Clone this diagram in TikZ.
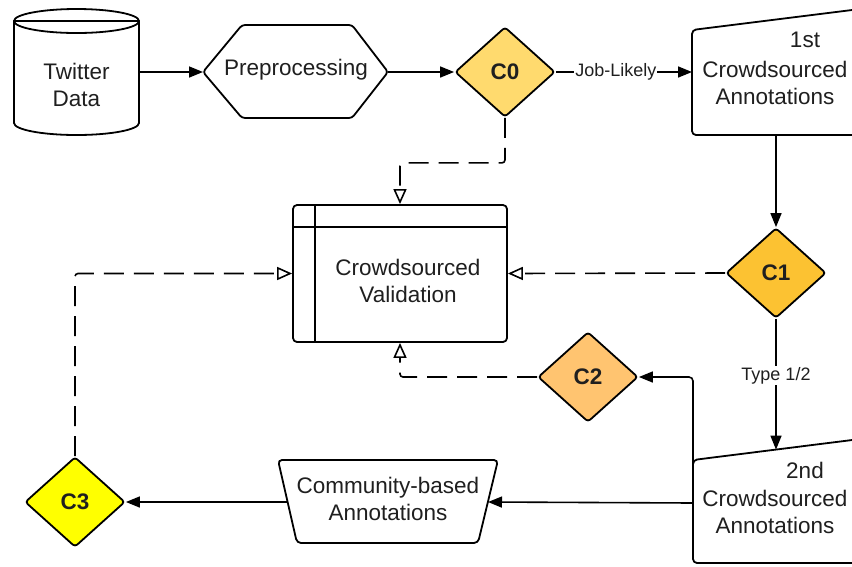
\documentclass[tikz,border=0pt]{standalone}
\usepackage{fontspec}
\setmainfont{Liberation Sans}
\usetikzlibrary{shapes.geometric,arrows.meta}
\definecolor{czero}{HTML}{FFDA6E}
\definecolor{cone}{HTML}{FCC232}
\definecolor{ctwo}{HTML}{FFC470}
\definecolor{cthree}{HTML}{FFFF00}
\begin{document}
\begin{tikzpicture}[x=1pt,y=-1pt,
  shapeline/.style={draw=black, line width=1.8pt, line join=round},
  txt/.style={font=\fontsize{22.5}{27}\selectfont, text=black!88, align=center, inner sep=0pt},
  dia/.style={diamond, draw=black, line width=1.8pt, rounded corners=3pt, minimum width=100pt, minimum height=90pt, inner sep=0pt, font=\bfseries\fontsize{22.5}{27}\selectfont, text=black!88},
  lbl/.style={font=\fontsize{18}{20}\selectfont, text=black!88, fill=white, inner sep=1pt},
  flow/.style={draw=black, line width=1.6pt, -{Triangle[length=14pt,width=11pt]}},
  dashflow/.style={draw=black, line width=1.6pt, dash pattern=on 20pt off 10pt, -{Triangle[open,length=15pt,width=13pt]}}
]
\useasboundingbox (0,0) rectangle (852,566);
\clip (0,0) rectangle (852,566);
\fill[white] (0,0) rectangle (852,566);

% Twitter Data cylinder
\path[shapeline, fill=white] (14,21) -- (14,123) arc[start angle=180,end angle=0,x radius=62.5,y radius=12] -- (139,21) -- cycle;
\draw[shapeline] (76.5,21) ellipse[x radius=62.5,y radius=12];
\node[txt] (tw) at (76.5,85) {Twitter\\Data};

% Preprocessing hexagon
\draw[shapeline, rounded corners=3pt] (203,72) -- (242,25) -- (352,25) -- (388,72) -- (352,118) -- (242,118) -- cycle;
\node[txt] (pre) at (296,70) {Preprocessing};

% 1st Crowdsourced Annotations (manual input)
\draw[shapeline, rounded corners=4pt] (880,135) -- (692,135) -- (692,30) -- (880,6.5);
\node[txt] (a1n) at (805,40) {1st};
\node[txt] (a1) at (775,83) {Crowdsourced\\Annotations};

% 2nd Crowdsourced Annotations (manual input)
\draw[shapeline, rounded corners=4pt] (880,563) -- (693,563) -- (693,460) -- (880,436.5);
\node[txt] (a2n) at (805,470) {2nd};
\node[txt] (a2) at (775,512) {Crowdsourced\\Annotations};

% Crowdsourced Validation
\node[shapeline, rectangle, rounded corners=4pt, minimum width=214pt, minimum height=137pt, inner sep=0pt] (val) at (400,273.5) {};
\draw[line width=1.5pt] (315,205) -- (315,342);
\draw[line width=1.5pt] (293,227) -- (507,227);
\node[txt] (valt) at (408,281) {Crowdsourced\\Validation};

% Community-based Annotations trapezoid
\draw[shapeline, rounded corners=4pt] (278,460) -- (498,460) -- (478,543) -- (297,543) -- cycle;
\node[txt] (cb) at (388,499) {Community-based\\Annotations};

% Decision diamonds
\node[dia, fill=czero] (C0) at (505,72) {C0};
\node[dia, fill=cone] (C1) at (776,273) {C1};
\node[dia, fill=ctwo] (C2) at (588,377) {C2};
\node[dia, fill=cthree] (C3) at (75,502) {C3};

% anchor coordinates
\coordinate (twE) at (139,72);
\coordinate (preW) at (203,72);
\coordinate (preE) at (388,72);
\coordinate (a1W) at (692,72);
\coordinate (a1S) at (776,135);
\coordinate (a2N) at (776,449.6);
\coordinate (a2W) at (693,503);
\coordinate (a2Wu) at (693,470);
\coordinate (cbE) at (488,502);
\coordinate (cbW) at (287.6,502);

% solid flows
\draw[flow] (twE) -- (preW);
\draw[flow] (preE) -- (C0.west);
\draw[flow] (C0.east) -- node[lbl,pos=0.44]{Job-Likely} (a1W);
\draw[flow] (a1S) -- (C1.north);
\draw[flow] (C1.south) -- node[lbl,pos=0.435]{Type 1/2} (a2N);
\draw[flow, rounded corners=4pt] (a2Wu) |- (C2.east);
\draw[flow] (a2W) -- (cbE);
\draw[flow] (cbW) -- (C3.east);

% dashed validation flows
\draw[dashflow, rounded corners=3pt] (C0.south) -- ++(0,45) -| (val.north);
\draw[dashflow] (C1.west) -- (val.east);
\draw[dashflow, rounded corners=3pt] (C2.west) -| (val.south);
\draw[dashflow, rounded corners=3pt] (C3.north) |- (val.west);
\end{tikzpicture}
\end{document}
